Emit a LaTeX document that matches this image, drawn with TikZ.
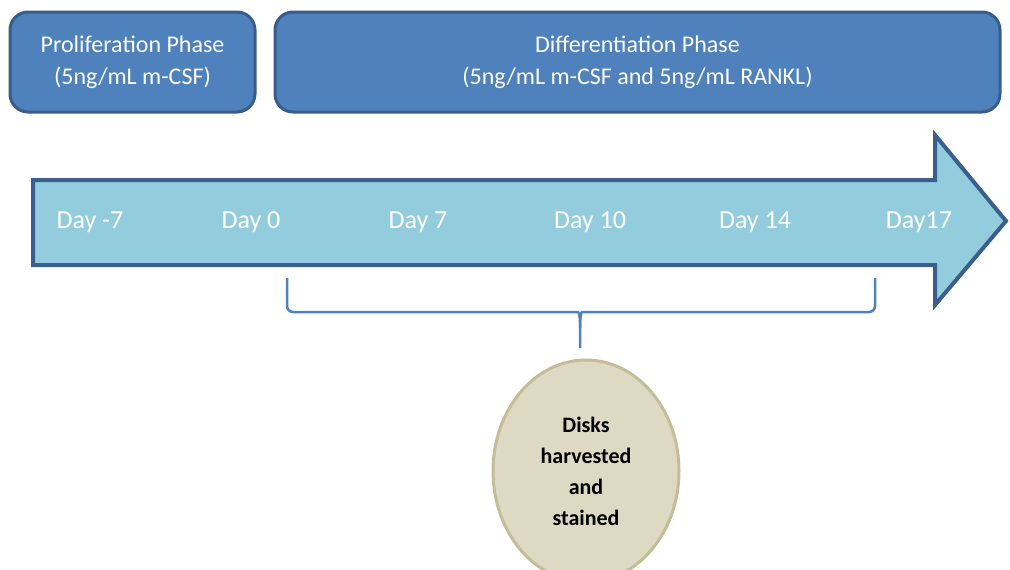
\documentclass[tikz,border=0pt]{standalone}
\usepackage{fontspec}
\setmainfont{Carlito}
\usetikzlibrary{shapes.geometric}
\definecolor{phasefill}{HTML}{4F81BD}
\definecolor{phaseedge}{HTML}{385D8A}
\definecolor{arrowfill}{HTML}{93CDDD}
\definecolor{arrowedge}{HTML}{3B5F8D}
\definecolor{diskfill}{HTML}{DDD9C3}
\definecolor{diskedge}{HTML}{C4BD97}
\tikzset{
  phasebox/.style={draw=phaseedge, fill=phasefill, line width=3pt, rounded corners=18pt,
    text=white, align=center, inner sep=0pt, font=\fontsize{24}{32}\selectfont},
  daylabel/.style={text=white, inner sep=0pt, font=\fontsize{26}{30}\selectfont},
  bracket/.style={draw=phasefill, line width=2.5pt, rounded corners=6pt},
}
\begin{document}
\begin{tikzpicture}[x=1pt, y=-1pt]
\useasboundingbox (0,0) rectangle (1010,570);
\node[phasebox, minimum width=245pt, minimum height=100pt] (prolif) at (132.5,62) {Proliferation Phase\\(5ng/mL m-CSF)};
\node[phasebox, minimum width=725pt, minimum height=100pt] (diff) at (637.5,62) {Differentiation Phase\\(5ng/mL m-CSF and 5ng/mL RANKL)};
% timeline arrow
\draw[draw=arrowedge, fill=arrowfill, line width=4pt, line join=miter]
  (33,180) -- (935,180) -- (935,135) -- (1006,221) -- (935,305) -- (935,265) -- (33,265) -- cycle;
\node[daylabel] (dm7) at (90,222) {Day -7};
\node[daylabel] (d0) at (251,222) {Day 0};
\node[daylabel] (d7) at (418,222) {Day 7};
\node[daylabel] (d10) at (590,222) {Day 10};
\node[daylabel] (d14) at (755,222) {Day 14};
\node[daylabel] (d17) at (919,222) {Day17};
% brace under the timeline
\coordinate (tip) at (580,348);
\draw[bracket] (287,278) -- (287,312) -- (572,312) .. controls (579,312) and (580,318) .. (580,328) -- (tip);
\draw[bracket] (875,278) -- (875,312) -- (588,312) .. controls (581,312) and (580,318) .. (580,328);
\node[draw=diskedge, fill=diskfill, line width=3pt, ellipse, minimum width=186pt, minimum height=222pt,
  align=center, font=\bfseries\fontsize{22}{31}\selectfont, inner sep=0pt] (disks) at (586,471) {Disks\\harvested\\and\\stained};
\end{tikzpicture}
\end{document}
